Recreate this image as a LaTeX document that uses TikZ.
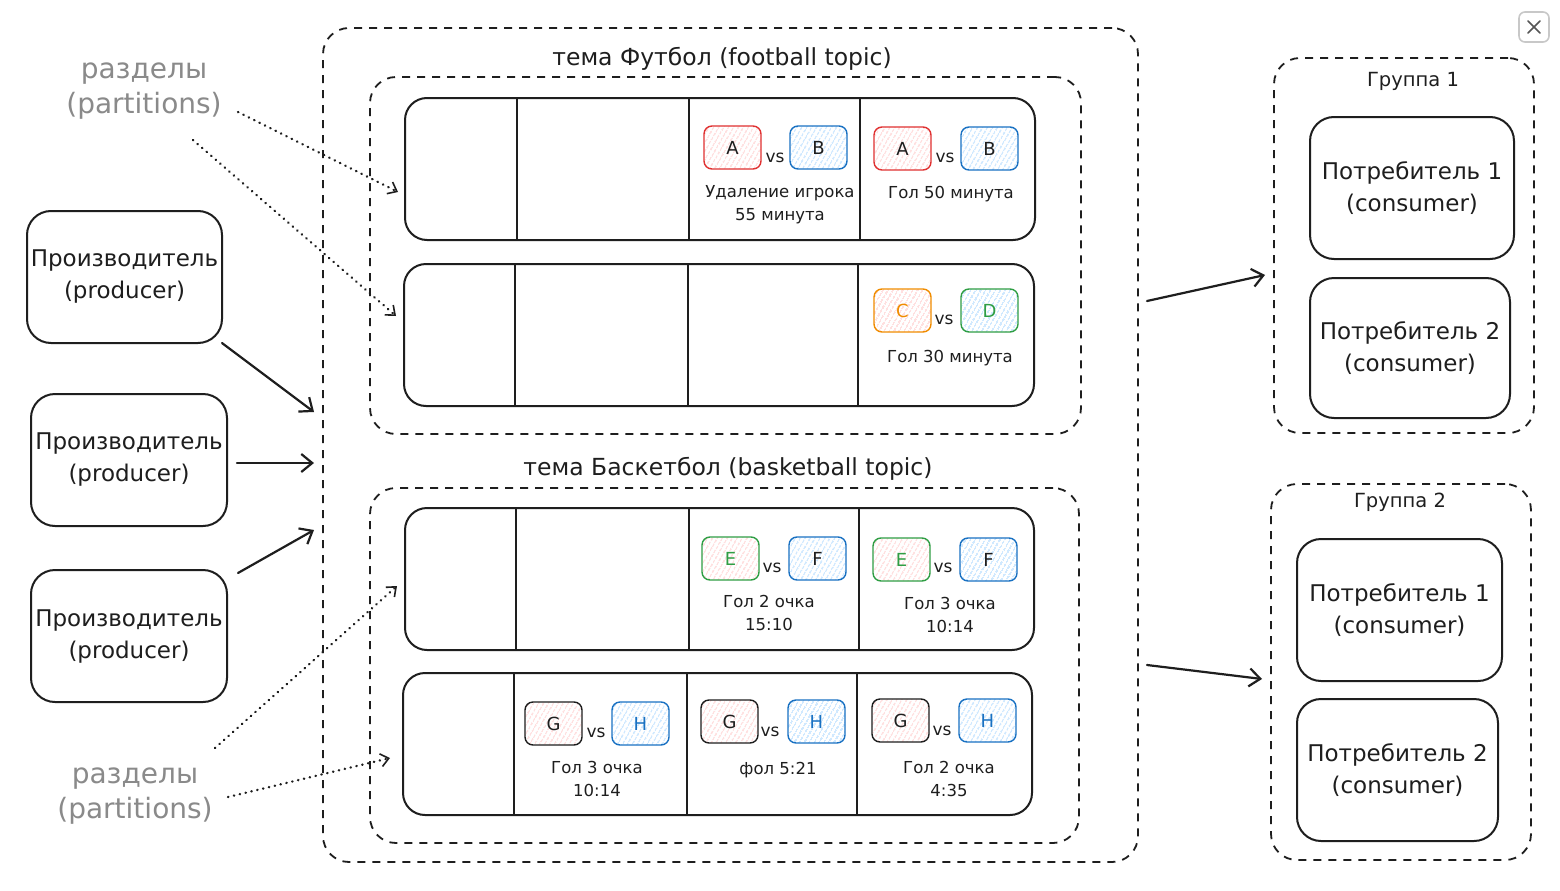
\documentclass[tikz,border=0pt]{standalone}
\usepackage{fontspec}
\setmainfont{DejaVu Sans}
\usetikzlibrary{arrows.meta,patterns.meta,calc}
\definecolor{ink}{HTML}{1E1E1E}
\definecolor{tred}{HTML}{E03131}
\definecolor{tredf}{HTML}{FFA8A8}
\definecolor{tblue}{HTML}{1971C2}
\definecolor{tbluef}{HTML}{7CC2FF}
\definecolor{torange}{HTML}{F08C00}
\definecolor{tgreen}{HTML}{2F9E44}
\definecolor{lblgrey}{HTML}{8A8A8A}
\definecolor{btngrey}{HTML}{C8C8C8}
\definecolor{xgrey}{HTML}{555555}

\newcommand\placebox[7]{\node[#6, minimum width={(#4)-(#2)}, minimum height={(#5)-(#3)}] (#1) at ({((#2)+(#4))/2},{((#3)+(#5))/2}) {#7};}
% team box: name, x, y (top-left), border, hatch, letter colour, letter
\newcommand\team[7]{\node[teambox, draw=#4, pattern={Lines[angle=60,distance=4pt,line width=0.9pt]}, pattern color=#5, text=#6] (#1) at ({(#2)+28.5},{(#3)+21.5}) {#7};}

\begin{document}
\begin{tikzpicture}[x=1pt,y=-1pt, line join=round,
  solidbox/.style={draw=ink, line width=2pt, rounded corners=24pt, inner sep=0pt, align=center, font=\fontsize{23}{32}\selectfont, text=ink},
  partbox/.style={draw=ink, line width=2pt, rounded corners=22pt, inner sep=0pt},
  dashbox/.style={draw=ink, line width=1.8pt, dash pattern=on 8pt off 7pt, rounded corners=26pt, inner sep=0pt},
  teambox/.style={line width=1.4pt, rounded corners=8pt, minimum width=57pt, minimum height=43pt, inner sep=0pt, font=\fontsize{18}{20}\selectfont},
  vslbl/.style={font=\fontsize{17}{20}\selectfont, text=ink, inner sep=0pt},
  evlbl/.style={font=\fontsize{16.5}{23}\selectfont, text=ink, align=center, inner sep=0pt},
  topiclbl/.style={font=\fontsize{23.5}{26}\selectfont, text=ink, inner sep=0pt},
  grplbl/.style={font=\fontsize{19.5}{22}\selectfont, text=ink, inner sep=0pt},
  partlbl/.style={font=\fontsize{28}{35}\selectfont, text=lblgrey, align=center, inner sep=0pt},
  divider/.style={draw=ink, line width=2pt},
  arr/.style={draw=ink, line width=2.2pt, line cap=round, -{Straight Barb[length=11pt,width=18pt,line width=2.2pt]}},
  dotarr/.style={draw=ink, line width=2.4pt, line cap=round, dash pattern=on 0.4pt off 5.6pt, -{Straight Barb[length=8pt,width=13pt,line width=1.6pt]}}
]
\useasboundingbox (0,0) rectangle (1560,891);
\fill[white] (0,0) rectangle (1560,891);

% close button
\placebox{closebtn}{1519}{12}{1549}{42}{draw=btngrey, line width=1.6pt, rounded corners=6pt}{}
\draw[xgrey, line width=1.5pt, line cap=round] ($(closebtn.center)+(-6,-6)$) -- ($(closebtn.center)+(6,6)$);
\draw[xgrey, line width=1.5pt, line cap=round] ($(closebtn.center)+(-6,6)$) -- ($(closebtn.center)+(6,-6)$);

% producers
\placebox{prod1}{27}{211}{222}{343}{solidbox}{Производитель\\(producer)}
\placebox{prod2}{31}{394}{227}{526}{solidbox}{Производитель\\(producer)}
\placebox{prod3}{31}{570}{227}{702}{solidbox}{Производитель\\(producer)}

% outer container
\placebox{outer}{323}{28}{1138}{862}{dashbox}{}

% football topic
\node[topiclbl] (ftlbl) at (722,59) {тема Футбол (football topic)};
\placebox{ftbox}{370}{77}{1081}{434}{dashbox}{}
\placebox{part1}{405}{98}{1035}{240}{partbox}{}
\placebox{part2}{404}{264}{1034}{406}{partbox}{}
\foreach \xx in {517,689,860} \draw[divider] (\xx,0 |- part1.north) -- (\xx,0 |- part1.south);
\foreach \xx in {515,688,858} \draw[divider] (\xx,0 |- part2.north) -- (\xx,0 |- part2.south);

% basketball topic
\node[topiclbl] (btlbl) at (728,469) {тема Баскетбол (basketball topic)};
\placebox{btbox}{370}{488}{1079}{843}{dashbox}{}
\placebox{part3}{405}{508}{1034}{650}{partbox}{}
\placebox{part4}{403}{673}{1032}{815}{partbox}{}
\foreach \xx in {516,689,859} \draw[divider] (\xx,0 |- part3.north) -- (\xx,0 |- part3.south);
\foreach \xx in {514,687,857} \draw[divider] (\xx,0 |- part4.north) -- (\xx,0 |- part4.south);

% partition 1 messages
\team{a1}{704}{126}{tred}{tredf}{ink}{A}
\team{b1}{790}{126}{tblue}{tbluef}{ink}{B}
\node[vslbl] (vs1) at (775,158) {vs};
\node[evlbl] (ev1) at (780,205) {Удаление игрока\\55 минута};
\team{a2}{874}{127}{tred}{tredf}{ink}{A}
\team{b2}{961}{127}{tblue}{tbluef}{ink}{B}
\node[vslbl] (vs2) at (945,158) {vs};
\node[evlbl] (ev2) at (951,194) {Гол 50 минута};

% partition 2 messages
\team{c1}{874}{289}{torange}{tredf}{torange}{C}
\team{d1}{961}{289}{tgreen}{tbluef}{tgreen}{D}
\node[vslbl] (vs3) at (944,320) {vs};
\node[evlbl] (ev3) at (950,358) {Гол 30 минута};

% partition 3 messages
\team{e1}{702}{537}{tgreen}{tredf}{tgreen}{E}
\team{f1}{789}{537}{tblue}{tbluef}{ink}{F}
\node[vslbl] (vs4) at (772,568) {vs};
\node[evlbl] (ev4) at (769,613) {Гол 2 очка\\15:10};
\team{e2}{873}{538}{tgreen}{tredf}{tgreen}{E}
\team{f2}{960}{538}{tblue}{tbluef}{ink}{F}
\node[vslbl] (vs5) at (943,568) {vs};
\node[evlbl] (ev5) at (950,615) {Гол 3 очка\\10:14};

% partition 4 messages
\team{g1}{525}{702}{ink}{tredf}{ink}{G}
\team{h1}{612}{702}{tblue}{tbluef}{tblue}{H}
\node[vslbl] (vs6) at (596,733) {vs};
\node[evlbl] (ev6) at (597,779) {Гол 3 очка\\10:14};
\team{g2}{701}{700}{ink}{tredf}{ink}{G}
\team{h2}{788}{700}{tblue}{tbluef}{tblue}{H}
\node[vslbl] (vs7) at (770,732) {vs};
\node[evlbl] (ev7) at (778,770) {фол 5:21};
\team{g3}{872}{699}{ink}{tredf}{ink}{G}
\team{h3}{959}{699}{tblue}{tbluef}{tblue}{H}
\node[vslbl] (vs8) at (942,731) {vs};
\node[evlbl] (ev8) at (949,779) {Гол 2 очка\\4:35};

% consumer groups
\placebox{grp1}{1274}{58}{1534}{433}{dashbox}{}
\node[grplbl] (g1lbl) at (1413,81) {Группа 1};
\placebox{c11}{1310}{117}{1514}{259}{solidbox}{Потребитель 1\\(consumer)}
\placebox{c12}{1310}{278}{1510}{418}{solidbox}{Потребитель 2\\(consumer)}
\placebox{grp2}{1271}{484}{1531}{860}{dashbox}{}
\node[grplbl] (g2lbl) at (1400,502) {Группа 2};
\placebox{c21}{1297}{539}{1502}{681}{solidbox}{Потребитель 1\\(consumer)}
\placebox{c22}{1297}{699}{1498}{841}{solidbox}{Потребитель 2\\(consumer)}

% partition labels
\node[partlbl] (plbl1) at (144,91) {разделы\\(partitions)};
\node[partlbl] (plbl2) at (135,796) {разделы\\(partitions)};

% connector endpoints
\coordinate (pa1) at (222,343); \coordinate (ta1) at (314,412);
\coordinate (pa2) at (237,463); \coordinate (ta2) at (314,463);
\coordinate (pa3) at (238,573); \coordinate (ta3) at (314,530);
\coordinate (oa1) at (1147,301); \coordinate (ga1) at (1265,275);
\coordinate (oa2) at (1147,665); \coordinate (ga2) at (1262,679);
\coordinate (ds1) at (238,112); \coordinate (de1) at (398,192);
\coordinate (ds2) at (193,140); \coordinate (de2) at (396,316);
\coordinate (ds3) at (215,748); \coordinate (de3) at (397,586);
\coordinate (ds4) at (228,797); \coordinate (de4) at (390,758);

\draw[arr] (pa1) -- (ta1);
\draw[arr] (pa2) -- (ta2);
\draw[arr] (pa3) -- (ta3);
\draw[arr] (oa1) -- (ga1);
\draw[arr] (oa2) -- (ga2);
\draw[dotarr] (ds1) -- (de1);
\draw[dotarr] (ds2) -- (de2);
\draw[dotarr] (ds3) -- (de3);
\draw[dotarr] (ds4) -- (de4);
\end{tikzpicture}
\end{document}
